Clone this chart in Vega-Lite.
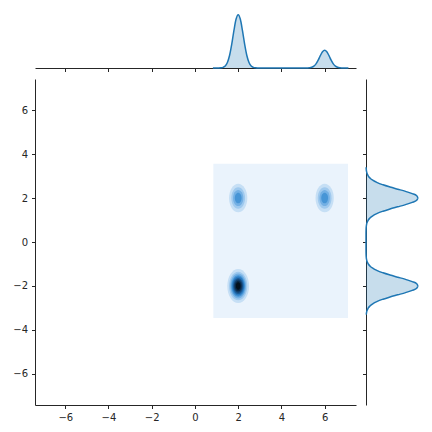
{
  "$schema": "https://vega.github.io/schema/vega-lite/v6.json",
  "padding": {"left": 12, "top": 11, "right": 5, "bottom": 5},
  "bounds": "flush",
  "spacing": {"row": 11, "column": 10},
  "columns": 2,
  "resolve": {"scale": {"x": "independent", "y": "independent"}, "axis": {"x": "independent", "y": "independent"}},
  "config": {
    "view": {"stroke": null},
    "axis": {"domainColor": "#262626", "tickColor": "#262626", "labelColor": "#262626", "labelFont": "DejaVu Sans", "labelFontSize": 10, "tickSize": 3.5, "labelPadding": 4, "grid": false, "domainWidth": 1, "tickWidth": 1, "minExtent": 0, "maxExtent": 200}
  },
  "datasets": {
    "bg": [{"x1": 0.85, "x2": 7.08, "y1": -3.45, "y2": 3.56, "level": 0}],
    "blobs": [
      {"cx": 2, "cy": -2, "level": 1, "hw": 0.504},
      {"cx": 2, "cy": -2, "level": 2, "hw": 0.422},
      {"cx": 2, "cy": -2, "level": 3, "hw": 0.365},
      {"cx": 2, "cy": -2, "level": 4, "hw": 0.318},
      {"cx": 2, "cy": -2, "level": 5, "hw": 0.277},
      {"cx": 2, "cy": -2, "level": 6, "hw": 0.238},
      {"cx": 2, "cy": -2, "level": 7, "hw": 0.199},
      {"cx": 2, "cy": -2, "level": 8, "hw": 0.157},
      {"cx": 2, "cy": -2, "level": 9, "hw": 0.108},
      {"cx": 2, "cy": 2, "level": 1, "hw": 0.422},
      {"cx": 2, "cy": 2, "level": 2, "hw": 0.318},
      {"cx": 2, "cy": 2, "level": 3, "hw": 0.238},
      {"cx": 2, "cy": 2, "level": 4, "hw": 0.157},
      {"cx": 6, "cy": 2, "level": 1, "hw": 0.422},
      {"cx": 6, "cy": 2, "level": 2, "hw": 0.318},
      {"cx": 6, "cy": 2, "level": 3, "hw": 0.238},
      {"cx": 6, "cy": 2, "level": 4, "hw": 0.157}
    ],
    "mx": [
      {"x": 0.83, "d": 0}, {"x": 1.1, "d": 0}, {"x": 1.2, "d": 0.003}, {"x": 1.3, "d": 0.012}, {"x": 1.4, "d": 0.038},
      {"x": 1.5, "d": 0.104}, {"x": 1.6, "d": 0.235}, {"x": 1.7, "d": 0.443}, {"x": 1.8, "d": 0.696}, {"x": 1.9, "d": 0.913},
      {"x": 2.0, "d": 1}, {"x": 2.1, "d": 0.913}, {"x": 2.2, "d": 0.696}, {"x": 2.3, "d": 0.443}, {"x": 2.4, "d": 0.235},
      {"x": 2.5, "d": 0.104}, {"x": 2.6, "d": 0.038}, {"x": 2.7, "d": 0.012}, {"x": 2.8, "d": 0.003}, {"x": 2.9, "d": 0},
      {"x": 5.1, "d": 0}, {"x": 5.2, "d": 0.001}, {"x": 5.3, "d": 0.004}, {"x": 5.4, "d": 0.013}, {"x": 5.5, "d": 0.035},
      {"x": 5.6, "d": 0.078}, {"x": 5.7, "d": 0.148}, {"x": 5.8, "d": 0.232}, {"x": 5.9, "d": 0.304}, {"x": 6.0, "d": 0.333},
      {"x": 6.1, "d": 0.304}, {"x": 6.2, "d": 0.232}, {"x": 6.3, "d": 0.148}, {"x": 6.4, "d": 0.078}, {"x": 6.5, "d": 0.035},
      {"x": 6.6, "d": 0.013}, {"x": 6.7, "d": 0.004}, {"x": 6.8, "d": 0.001}, {"x": 6.9, "d": 0}, {"x": 7.1, "d": 0}
    ],
    "my": [
      {"y": 3.4, "d": 0.002}, {"y": 3.3, "d": 0.005}, {"y": 3.2, "d": 0.011}, {"y": 3.1, "d": 0.023}, {"y": 3.0, "d": 0.044},
      {"y": 2.9, "d": 0.08}, {"y": 2.8, "d": 0.135}, {"y": 2.7, "d": 0.216}, {"y": 2.6, "d": 0.325}, {"y": 2.5, "d": 0.458},
      {"y": 2.4, "d": 0.607}, {"y": 2.3, "d": 0.755}, {"y": 2.2, "d": 0.882}, {"y": 2.1, "d": 0.969}, {"y": 2.0, "d": 1},
      {"y": 1.9, "d": 0.969}, {"y": 1.8, "d": 0.882}, {"y": 1.7, "d": 0.755}, {"y": 1.6, "d": 0.607}, {"y": 1.5, "d": 0.458},
      {"y": 1.4, "d": 0.325}, {"y": 1.3, "d": 0.216}, {"y": 1.2, "d": 0.135}, {"y": 1.1, "d": 0.08}, {"y": 1.0, "d": 0.044},
      {"y": 0.9, "d": 0.023}, {"y": 0.8, "d": 0.011}, {"y": 0.7, "d": 0.005}, {"y": 0.6, "d": 0.002}, {"y": 0.4, "d": 0},
      {"y": -0.4, "d": 0}, {"y": -0.6, "d": 0.002}, {"y": -0.7, "d": 0.005}, {"y": -0.8, "d": 0.011}, {"y": -0.9, "d": 0.023},
      {"y": -1.0, "d": 0.044}, {"y": -1.1, "d": 0.08}, {"y": -1.2, "d": 0.135}, {"y": -1.3, "d": 0.216}, {"y": -1.4, "d": 0.325},
      {"y": -1.5, "d": 0.458}, {"y": -1.6, "d": 0.607}, {"y": -1.7, "d": 0.755}, {"y": -1.8, "d": 0.882}, {"y": -1.9, "d": 0.969},
      {"y": -2.0, "d": 1}, {"y": -2.1, "d": 0.969}, {"y": -2.2, "d": 0.882}, {"y": -2.3, "d": 0.755}, {"y": -2.4, "d": 0.607},
      {"y": -2.5, "d": 0.458}, {"y": -2.6, "d": 0.325}, {"y": -2.7, "d": 0.216}, {"y": -2.8, "d": 0.135}, {"y": -2.9, "d": 0.08},
      {"y": -3.0, "d": 0.044}, {"y": -3.1, "d": 0.023}, {"y": -3.2, "d": 0.011}, {"y": -3.3, "d": 0.005}
    ]
  },
  "concat": [
    {
      "width": 321, "height": 56,
      "data": {"name": "mx"},
      "layer": [
        {
          "mark": {"type": "area", "orient": "vertical", "color": "#1f77b4", "opacity": 0.25, "interpolate": "monotone"},
          "encoding": {
            "x": {"field": "x", "type": "quantitative", "scale": {"domain": [-7.4, 7.45], "nice": false, "zero": false}, "axis": {"values": [-6, -4, -2, 0, 2, 4, 6], "labels": false, "title": null}},
            "y": {"field": "d", "type": "quantitative", "scale": {"domain": [0, 1.05], "nice": false}, "axis": null}
          }
        },
        {
          "mark": {"type": "line", "orient": "vertical", "color": "#1f77b4", "strokeWidth": 1.5, "interpolate": "monotone"},
          "encoding": {
            "x": {"field": "x", "type": "quantitative", "axis": {"values": [-6, -4, -2, 0, 2, 4, 6], "labels": false, "title": null}},
            "y": {"field": "d", "type": "quantitative", "axis": null}
          }
        }
      ]
    },
    {
      "width": 55, "height": 56,
      "data": {"values": []},
      "mark": {"type": "point", "opacity": 0},
      "encoding": {}
    },
    {
      "width": 321, "height": 326,
      "layer": [
        {
          "data": {"name": "bg"},
          "mark": {"type": "rect"},
          "encoding": {
            "x": {"field": "x1", "type": "quantitative", "scale": {"domain": [-7.4, 7.45], "nice": false, "zero": false}, "axis": {"values": [-6, -4, -2, 0, 2, 4, 6], "title": null}},
            "x2": {"field": "x2"},
            "y": {"field": "y1", "type": "quantitative", "scale": {"domain": [-7.41, 7.41], "nice": false, "zero": false}, "axis": {"values": [-6, -4, -2, 0, 2, 4, 6], "title": null}},
            "y2": {"field": "y2"},
            "color": {"field": "level", "type": "ordinal", "scale": {"domain": [0, 1, 2, 3, 4, 5, 6, 7, 8, 9], "range": ["#eaf3fc", "#c6dff5", "#9fc9ee", "#74b0e4", "#4795d6", "#2a79bf", "#1c5c98", "#124170", "#0a2847", "#03101d"]}, "legend": null}
          }
        },
        {
          "data": {"name": "blobs"},
          "mark": {"type": "point", "filled": true, "opacity": 1, "strokeWidth": 0, "shape": "M -1 0 C -1 -0.867 -0.552 -1.57 0 -1.57 C 0.552 -1.57 1 -0.867 1 0 C 1 0.867 0.552 1.57 0 1.57 C -0.552 1.57 -1 0.867 -1 0 Z"},
          "encoding": {
            "x": {"field": "cx", "type": "quantitative", "axis": {"values": [-6, -4, -2, 0, 2, 4, 6], "title": null}},
            "y": {"field": "cy", "type": "quantitative", "axis": {"values": [-6, -4, -2, 0, 2, 4, 6], "title": null}},
            "size": {"field": "hw", "type": "quantitative", "scale": {"type": "pow", "exponent": 2, "domain": [0, 1], "range": [0, 1870]}, "legend": null},
            "color": {"field": "level", "type": "ordinal", "legend": null},
            "order": {"field": "level", "type": "quantitative"}
          }
        }
      ]
    },
    {
      "width": 55, "height": 326,
      "data": {"name": "my"},
      "layer": [
        {
          "mark": {"type": "area", "orient": "horizontal", "color": "#1f77b4", "opacity": 0.25, "interpolate": "monotone"},
          "encoding": {
            "y": {"field": "y", "type": "quantitative", "scale": {"domain": [-7.41, 7.41], "nice": false, "zero": false}, "axis": {"orient": "left", "values": [-6, -4, -2, 0, 2, 4, 6], "labels": false, "title": null}},
            "x": {"field": "d", "type": "quantitative", "scale": {"domain": [0, 1.05], "nice": false}, "axis": null}
          }
        },
        {
          "mark": {"type": "line", "orient": "horizontal", "color": "#1f77b4", "strokeWidth": 1.5, "interpolate": "monotone"},
          "encoding": {
            "y": {"field": "y", "type": "quantitative", "axis": {"orient": "left", "values": [-6, -4, -2, 0, 2, 4, 6], "labels": false, "title": null}},
            "x": {"field": "d", "type": "quantitative", "axis": null},
            "order": {"field": "y", "type": "quantitative"}
          }
        }
      ]
    }
  ]
}
